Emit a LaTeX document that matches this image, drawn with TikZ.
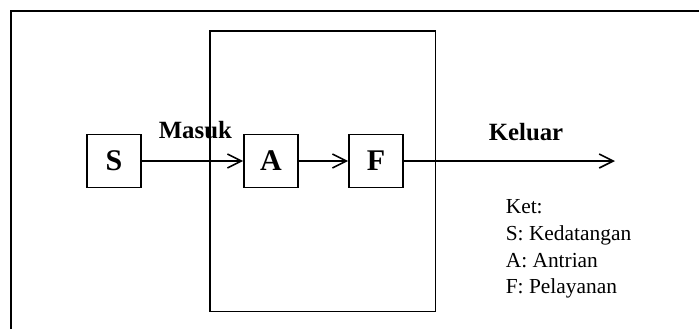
\documentclass[tikz,border=0pt]{standalone}
\usepackage{fontspec}
\setmainfont{Liberation Serif}
\usetikzlibrary{arrows.meta}
\tikzset{
  blok/.style={draw, minimum width=27pt, minimum height=26.5pt, inner sep=0pt,
    font=\fontsize{15}{17}\selectfont\bfseries},
  judul/.style={anchor=base west, inner sep=0pt, font=\fontsize{12.4}{14}\selectfont\bfseries},
  ket/.style={anchor=base west, inner sep=0pt, font=\fontsize{10.7}{12}\selectfont},
}
\begin{document}
\begin{tikzpicture}[x=0.5pt, y=-0.5pt, line width=0.8pt, >={Straight Barb[length=7pt,width=7pt]}]
   \useasboundingbox (0,0) rectangle (699,329);
   \draw (11,329) -- (11,11) -- (699,11);
   \node[draw, minimum width=112.75pt, minimum height=140.25pt, inner sep=0pt] (Sys) at (322.75,171.25) {};
   \node[blok] (S) at (114,161) {S};
   \node[blok] (A) at (271,161) {A};
   \node[blok] (F) at (376,161) {F};
   \coordinate (Out) at (615,161);
   \draw[->] (S) -- (A);
   \draw[->] (A) -- (F);
   \draw[->] (F) -- (Out);
   \node[judul] (Masuk) at (158,138) {Masuk};
   \node[judul] (Keluar) at (488,140) {Keluar};
   \node[ket] (K0) at (505,213) {Ket:};
   \node[ket] (K1) at (505,240) {S: Kedatangan};
   \node[ket] (K2) at (505,267) {A: Antrian};
   \node[ket] (K3) at (505,293) {F: Pelayanan};
\end{tikzpicture}
\end{document}
